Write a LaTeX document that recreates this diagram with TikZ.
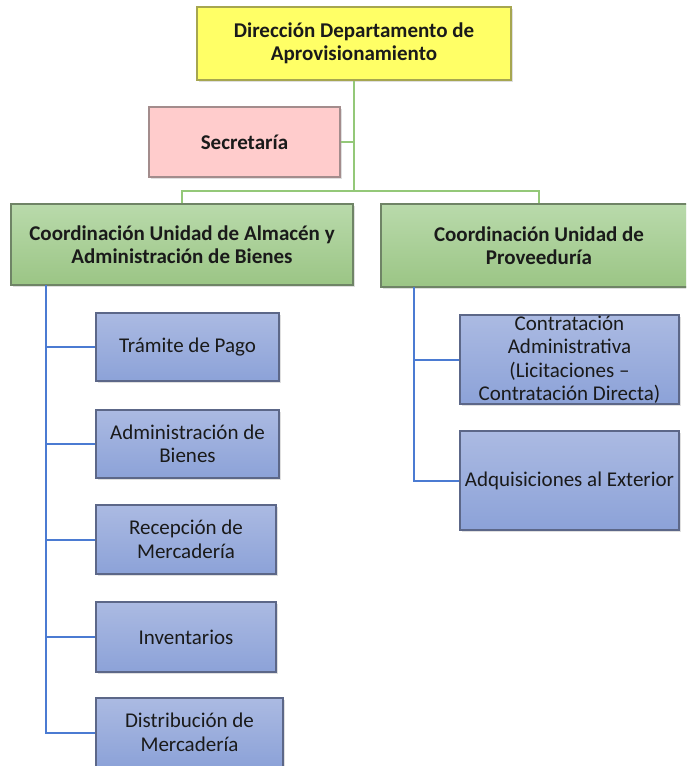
\documentclass[tikz,border=0pt]{standalone}
\usepackage{fontspec}
\setmainfont{Carlito}
\usetikzlibrary{shadows}
\definecolor{txt}{HTML}{1A1A1A}
\definecolor{yfill}{HTML}{FFFF66}
\definecolor{ydraw}{HTML}{A6A650}
\definecolor{pfill}{HTML}{FFCCCC}
\definecolor{pdraw}{HTML}{A38C8C}
\definecolor{gtop}{HTML}{B9DAAB}
\definecolor{gbot}{HTML}{9BC585}
\definecolor{gdraw}{HTML}{6F8466}
\definecolor{btop}{HTML}{ABBAE2}
\definecolor{bbot}{HTML}{8CA2D8}
\definecolor{bdraw}{HTML}{5C6788}
\definecolor{gline}{HTML}{94C878}
\definecolor{bline}{HTML}{4B7BD2}
\tikzset{
  box/.style={rectangle, draw, line width=1.3pt, align=center, text=txt,
    inner sep=1pt, font=\fontsize{21}{23.5}\selectfont,
    drop shadow={shadow xshift=1.5pt, shadow yshift=-1.5pt, opacity=0.25}},
  ybox/.style={box, fill=yfill, draw=ydraw, font=\fontsize{21}{23.5}\selectfont\bfseries},
  pbox/.style={box, fill=pfill, draw=pdraw, font=\fontsize{21}{23.5}\selectfont\bfseries},
  gbox/.style={box, top color=gtop, bottom color=gbot, draw=gdraw, font=\fontsize{21}{23.5}\selectfont\bfseries},
  bbox/.style={box, top color=btop, bottom color=bbot, draw=bdraw},
  gconn/.style={draw=gline, line width=2.2pt},
  bconn/.style={draw=bline, line width=2pt},
}
\begin{document}
\begin{tikzpicture}[x=1pt,y=1pt]
\useasboundingbox (0,0) rectangle (686,-766);
\clip (0,0) rectangle (686,-766);
\fill[white] (0,0) rectangle (686,-766);

\coordinate (jn) at (354,-191);
\coordinate (la) at (46,-285);
\coordinate (ra) at (414,-287);

\node[ybox, minimum width=314, minimum height=73] (dir) at (354,-43.5) {Dirección Departamento de\\Aprovisionamiento};
\node[pbox, minimum width=191, minimum height=70] (sec) at (244.5,-142) {Secretaría};
\node[gbox, minimum width=342, minimum height=81] (cA) at (182,-244.5) {Coordinación Unidad de Almacén y\\Administración de Bienes};
\node[gbox, minimum width=316, minimum height=83] (cP) at (539,-245.5) {Coordinación Unidad de\\Proveeduría};

\node[bbox, minimum width=183, minimum height=68] (t1) at (187.5,-347) {Trámite de Pago};
\node[bbox, minimum width=183, minimum height=68] (t2) at (187.5,-444) {Administración de\\Bienes};
\node[bbox, minimum width=180, minimum height=69] (t3) at (186,-539.5) {Recepción de\\Mercadería};
\node[bbox, minimum width=180, minimum height=70] (t4) at (186,-637) {Inventarios};
\node[bbox, minimum width=187, minimum height=69] (t5) at (189.5,-732.5) {Distribución de\\Mercadería};

\node[bbox, minimum width=219, minimum height=89, inner sep=0pt] (p1) at (569.5,-359.5) {Contratación\\Administrativa\\(Licitaciones –\\Contratación Directa)};
\node[bbox, minimum width=219, minimum height=99, inner sep=0pt] (p2) at (569.5,-480.5) {Adquisiciones al Exterior};

% green connectors
\draw[gconn] (dir.south) -- (jn);
\draw[gconn] (sec.east) -- (sec.east -| jn);
\draw[gconn] (cA.north) |- (jn) -| (cP.north);

% blue connectors
\draw[bconn] (la) |- (t5.west);
\draw[bconn] (la |- t1.west) -- (t1.west);
\draw[bconn] (la |- t2.west) -- (t2.west);
\draw[bconn] (la |- t3.west) -- (t3.west);
\draw[bconn] (la |- t4.west) -- (t4.west);
\draw[bconn] (ra) |- (p2.west);
\draw[bconn] (ra |- p1.west) -- (p1.west);
\end{tikzpicture}
\end{document}
